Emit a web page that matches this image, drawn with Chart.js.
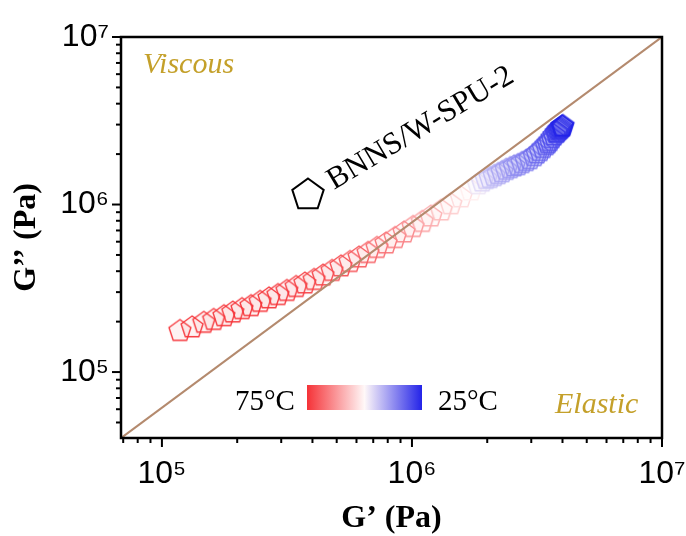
<!DOCTYPE html>
<html><head><meta charset="utf-8">
<script src="https://cdn.jsdelivr.net/npm/chart.js@4.4.1/dist/chart.umd.min.js"></script>
<style>
html,body{margin:0;padding:0;background:#fff;}
#wrap{width:686px;height:536px;position:relative;}
canvas{display:block;}
</style>
</head><body>
<div id="wrap"><canvas id="c" width="686" height="536"></canvas></div>
<script>
// ---- data ----
// G' (storage modulus, Pa), from 75 °C (first) to 25 °C (last)
const storageModulus = [
  1.18e5,1.32e5,1.47e5,1.61e5,1.77e5,1.92e5,2.09e5,2.27e5,2.47e5,2.68e5,
  2.91e5,3.16e5,3.44e5,3.73e5,4.06e5,4.41e5,4.79e5,5.20e5,5.65e5,6.14e5,
  6.67e5,7.24e5,7.87e5,8.55e5,9.29e5,1.01e6,1.10e6,1.19e6,1.31e6,1.43e6,
  1.57e6,1.72e6,
  1.84e6,1.91e6,1.98e6,2.05e6,2.13e6,2.21e6,2.29e6,2.38e6,2.47e6,2.56e6,
  2.65e6,2.75e6,2.86e6,2.96e6,3.08e6,3.16e6,3.25e6,3.34e6,3.44e6,3.50e6,
  3.56e6,3.63e6,3.70e6,3.77e6,3.80e6,3.84e6,3.87e6,3.91e6,3.94e6,3.98e6,
  3.98e6,4.02e6
];
// G'' (loss modulus, Pa)
const lossModulus = [
  1.77e5,1.86e5,1.98e5,2.06e5,2.17e5,2.28e5,2.39e5,2.49e5,2.64e5,2.77e5,
  2.90e5,3.07e5,3.24e5,3.40e5,3.57e5,3.79e5,4.04e5,4.30e5,4.57e5,4.86e5,
  5.17e5,5.54e5,5.89e5,6.35e5,6.85e5,7.39e5,7.92e5,8.54e5,9.27e5,1.01e6,
  1.11e6,1.22e6,
  1.33e6,1.38e6,1.43e6,1.45e6,1.49e6,1.53e6,1.57e6,1.62e6,1.66e6,1.70e6,
  1.73e6,1.78e6,1.83e6,1.88e6,1.96e6,2.03e6,2.10e6,2.19e6,2.28e6,2.34e6,
  2.41e6,2.51e6,2.60e6,2.69e6,2.71e6,2.77e6,2.81e6,2.84e6,2.88e6,2.93e6,
  2.94e6,2.96e6
];
const temperatureLabels = ['75°C', '25°C'];
const xRange = [6.86e4, 1e7];
const yRange = [4.04e4, 1e7];
const majorTickLabels = {4:'10⁴',5:'10⁵',6:'10⁶',7:'10⁷'};
const seriesName = 'BNNS/W-SPU-2';

// ---- helpers ----
const isMajor = v => Math.abs(Math.log10(v) - Math.round(Math.log10(v))) < 1e-9;
function logTicks(min, max){
  const out = [];
  for (let k = Math.floor(Math.log10(min)); k <= Math.ceil(Math.log10(max)); k++){
    for (let m = 1; m <= 9; m++){
      const v = m * Math.pow(10, k);
      if (v >= min * 0.999 && v <= max * 1.001) out.push({value: v});
    }
  }
  return out;
}
function colorAt(f, eased){
  const red = [245, 50, 55], white = [255, 248, 248], blue = [35, 35, 232];
  let a, b, t;
  if (f < 0.5){ a = red; b = white; t = f / 0.5; if (eased) t = Math.pow(t, 3.2); }
  else { a = white; b = blue; t = (f - 0.5) / 0.5; if (eased) t = Math.pow(t, 0.6); }
  return [0,1,2].map(i => Math.round(a[i] + (b[i] - a[i]) * t));
}
function pentagonPath(ctx, cx, cy, r, rotDeg){
  ctx.beginPath();
  for (let k = 0; k < 5; k++){
    const ang = (-90 + rotDeg + 72 * k) * Math.PI / 180;
    const x = cx + r * Math.cos(ang), y = cy + r * Math.sin(ang);
    if (k === 0) ctx.moveTo(x, y); else ctx.lineTo(x, y);
  }
  ctx.closePath();
}
const n = storageModulus.length;
const markerImages = storageModulus.map((_, i) => {
  const c = document.createElement('canvas');
  c.width = 28; c.height = 28;
  const g = c.getContext('2d');
  const f = i / (n - 1);
  const [r, gg, b] = colorAt(f, true);
  pentagonPath(g, 14, 14.5, 11.5, 0);
  g.fillStyle = `rgba(${r},${gg},${b},${f < 0.5 ? 0.06 : 0.12})`;
  g.fill();
  g.lineWidth = 1.4;
  g.strokeStyle = `rgba(${r},${gg},${b},0.95)`;
  g.stroke();
  return c;
});

const points = storageModulus.map((x, i) => ({x, y: lossModulus[i]}));

// ---- plugin: frame, tick marks and annotations ----
const decor = {
  id: 'decor',
  afterDraw(chart){
    const {ctx, chartArea: a, scales: {x, y}} = chart;
    ctx.save();
    ctx.strokeStyle = '#000';
    ctx.lineWidth = 2;
    x.ticks.forEach(t => {
      const px = x.getPixelForValue(t.value);
      const len = isMajor(t.value) ? 9 : 5;
      ctx.beginPath(); ctx.moveTo(px, a.bottom); ctx.lineTo(px, a.bottom + len); ctx.stroke();
    });
    y.ticks.forEach(t => {
      const py = y.getPixelForValue(t.value);
      const len = isMajor(t.value) ? 9 : 5;
      ctx.beginPath(); ctx.moveTo(a.left, py); ctx.lineTo(a.left - len, py); ctx.stroke();
    });
    ctx.lineWidth = 2.5;
    ctx.strokeRect(a.left, a.top, a.right - a.left, a.bottom - a.top);

    ctx.fillStyle = '#c4a02a';
    ctx.font = 'italic 30px "Liberation Serif", "Times New Roman", serif';
    ctx.textBaseline = 'alphabetic';
    ctx.textAlign = 'left';
    ctx.fillText('Viscous', a.left + 22, a.top + 36);
    ctx.fillText('Elastic', a.right - 107, a.bottom - 25);

    ctx.fillStyle = '#000';
    ctx.font = '29px "Liberation Serif", "Times New Roman", serif';
    ctx.fillText(temperatureLabels[0], 235, 410);
    ctx.fillText(temperatureLabels[1], 438, 410);
    const gx0 = 307, gx1 = 422;
    const grad = ctx.createLinearGradient(gx0, 0, gx1, 0);
    for (let s = 0; s <= 10; s++){
      const [r, g, b] = colorAt(s / 10, false);
      grad.addColorStop(s / 10, `rgb(${r},${g},${b})`);
    }
    ctx.fillStyle = grad;
    ctx.fillRect(gx0, 385, gx1 - gx0, 25);

    ctx.strokeStyle = '#000';
    ctx.lineWidth = 2;
    pentagonPath(ctx, 308, 195, 16.5, 0);
    ctx.stroke();
    ctx.save();
    ctx.translate(334, 190);
    ctx.rotate(-31 * Math.PI / 180);
    ctx.fillStyle = '#000';
    ctx.font = '31px "Liberation Serif", "Times New Roman", serif';
    ctx.fillText(seriesName, 0, 0);
    ctx.restore();
    ctx.restore();
  }
};

new Chart(document.getElementById('c'), {
  type: 'scatter',
  data: {
    datasets: [
      {
        type: 'line',
        label: 'G\' = G\'\'',
        data: [{x: xRange[0], y: yRange[0]}, {x: xRange[1], y: yRange[1]}],
        borderColor: '#b48a6e',
        borderWidth: 2.2,
        pointRadius: 0,
        fill: false,
        order: 0
      },
      {
        label: seriesName,
        data: points,
        pointStyle: ctx => markerImages[ctx.dataIndex] || 'circle',
        pointRadius: 11,
        showLine: false,
        order: 1
      }
    ]
  },
  options: {
    responsive: false,
    animation: false,
    events: [],
    layout: {padding: {top: 37, right: 24, left: 0, bottom: 0}},
    plugins: {legend: {display: false}, tooltip: {enabled: false}},
    scales: {
      x: {
        type: 'logarithmic',
        position: 'bottom',
        min: xRange[0], max: xRange[1],
        afterBuildTicks: s => { s.ticks = logTicks(s.min, s.max); },
        afterFit: s => { s.height = 98; s.paddingLeft = 0; s.paddingRight = 0; },
        ticks: {
          autoSkip: false, maxRotation: 0, minRotation: 0, padding: 17,
          color: '#000',
          font: {family: '"Liberation Sans", Arial, sans-serif', size: 32},
          callback: v => isMajor(v) ? majorTickLabels[Math.round(Math.log10(v))] : ''
        },
        grid: {display: false, drawTicks: false},
        border: {display: false},
        title: {
          display: true, text: 'G’ (Pa)', color: '#000',
          font: {family: '"Liberation Serif", "Times New Roman", serif', size: 32, weight: 'bold'},
          padding: {top: 0, bottom: -2}
        }
      },
      y: {
        type: 'logarithmic',
        position: 'left',
        min: yRange[0], max: yRange[1],
        afterBuildTicks: s => { s.ticks = logTicks(s.min, s.max); },
        afterFit: s => { s.width = 121; s.paddingTop = 0; s.paddingBottom = 0; },
        ticks: {
          autoSkip: false, padding: 12,
          color: '#000',
          font: {family: '"Liberation Sans", Arial, sans-serif', size: 32},
          callback: v => isMajor(v) ? majorTickLabels[Math.round(Math.log10(v))] : ''
        },
        grid: {display: false, drawTicks: false},
        border: {display: false},
        title: {
          display: true, text: 'G’’ (Pa)', color: '#000',
          font: {family: '"Liberation Serif", "Times New Roman", serif', size: 32, weight: 'bold'},
          padding: {top: 8, bottom: 0}
        }
      }
    }
  },
  plugins: [decor]
});
</script>
</body></html>
